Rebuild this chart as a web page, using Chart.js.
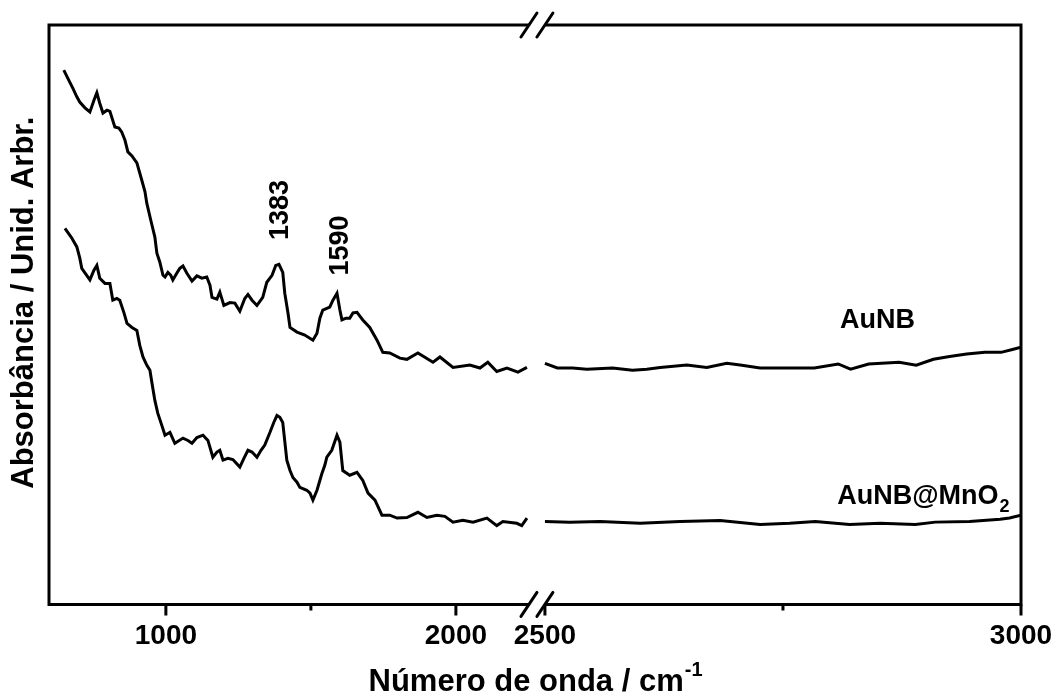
<!DOCTYPE html>
<html>
<head>
<meta charset="utf-8">
<script src="https://cdn.jsdelivr.net/npm/chart.js@4.4.0/dist/chart.umd.min.js"></script>
<style>
  html, body { margin: 0; padding: 0; background: #fff; }
</style>
</head>
<body>
<canvas id="c" width="1059" height="697"></canvas>
<script>
// spectra (wavenumber / cm-1, absorbance in arbitrary units)
const aunbWave = [648,662,679,693,703,721,738,752,762,772,783,797,807,824,838,848,859,869,883,900,
  917,928,934,948,962,969,979,990,997,1007,1017,1024,1038,1048,1059,1072,1090,1107,1124,1141,
  1152,1159,1176,1186,1200,1221,1238,1255,1272,1283,1297,1314,1334,1348,1366,1379,1390,1403,1410,1421,
  1428,1452,1479,1507,1521,1531,1541,1555,1565,1576,1590,1600,1607,1621,1634,1645,1659,1679,1703,1728,
  1748,1772,1807,1831,1869,1921,1945,1990,2048,2083,2110,2141,2176,2214,2245,
  2500,2513,2529,2544,2571,2592,2607,2621,2649,2670,2691,2705,2726,2739,2768,2783,2808,2821,2840,2872,
  2890,2908,2925,2943,2962,2979,2991,3000];
const aunbAbs = [0.922,0.908,0.891,0.876,0.867,0.857,0.850,0.870,0.883,0.865,0.848,0.853,0.851,0.824,0.822,0.815,0.801,0.781,0.774,0.762,
  0.732,0.712,0.693,0.663,0.634,0.606,0.591,0.568,0.565,0.573,0.568,0.560,0.572,0.580,0.584,0.572,0.558,0.567,0.563,0.565,
  0.551,0.530,0.527,0.539,0.516,0.521,0.520,0.506,0.528,0.535,0.525,0.516,0.530,0.556,0.568,0.585,0.587,0.573,0.537,0.503,
  0.478,0.470,0.465,0.456,0.468,0.494,0.508,0.511,0.513,0.525,0.537,0.508,0.491,0.494,0.494,0.503,0.504,0.491,0.478,0.456,
  0.435,0.434,0.425,0.423,0.434,0.418,0.427,0.409,0.413,0.408,0.418,0.402,0.408,0.401,0.409,
  0.416,0.408,0.408,0.406,0.408,0.404,0.406,0.409,0.413,0.409,0.416,0.413,0.408,0.408,0.408,0.408,0.415,0.406,0.415,0.418,
  0.413,0.423,0.428,0.432,0.435,0.435,0.440,0.444];

const mnoWave = [652,666,676,693,703,710,724,738,752,762,772,790,807,817,831,841,855,866,883,900,
  910,921,934,945,952,962,972,986,997,1014,1031,1059,1076,1090,1107,1128,1145,1162,1176,1186,
  1197,1214,1231,1255,1269,1283,1297,1314,1328,1341,1359,1372,1383,1393,1403,1417,1428,1438,1452,1462,
  1486,1497,1507,1521,1538,1548,1555,1572,1590,1600,1610,1634,1659,1679,1697,1721,1745,1772,1797,1831,
  1869,1900,1934,1962,1990,2024,2059,2107,2141,2162,2210,2227,2245,
  2500,2526,2558,2600,2642,2684,2726,2757,2784,2820,2852,2889,2910,2946,2978,2988,3000];
const mnoAbs = [0.649,0.639,0.632,0.617,0.598,0.580,0.570,0.560,0.577,0.585,0.563,0.554,0.554,0.525,0.528,0.525,0.504,0.485,0.478,0.473,
  0.447,0.427,0.413,0.404,0.382,0.352,0.330,0.309,0.292,0.297,0.278,0.287,0.283,0.278,0.288,0.292,0.283,0.254,0.263,0.266,
  0.249,0.252,0.250,0.237,0.252,0.266,0.263,0.254,0.266,0.275,0.297,0.314,0.326,0.323,0.314,0.249,0.231,0.219,0.211,0.202,
  0.197,0.192,0.180,0.197,0.226,0.240,0.254,0.266,0.292,0.280,0.231,0.223,0.228,0.214,0.192,0.180,0.154,0.154,0.149,0.150,
  0.159,0.150,0.154,0.152,0.142,0.145,0.142,0.149,0.136,0.143,0.140,0.136,0.149,
  0.143,0.142,0.143,0.140,0.143,0.145,0.138,0.140,0.143,0.138,0.140,0.138,0.142,0.143,0.147,0.149,0.154];

const tickValues = [1000, 1500, 2000, 2500, 2750, 3000];
const tickLabels = ['1000', '', '2000', '2500', '', '3000'];
const peakWave = [1383, 1590];
const peakLabelAbs = [0.684, 0.623];
const seriesNames = ['AuNB', 'AuNB@MnO2'];
const seriesLabelWave = [2810, 2807];
const seriesLabelAbs = [0.494, 0.190];

// broken axis: 600-2250 normal, 2500-3000 stretched
const breakStart = 2250, breakEnd = 2500, breakGap = 57, stretch = 3.283;
function toAxis(x) {
  return x <= breakStart ? x : breakStart + breakGap + (x - breakEnd) * stretch;
}

function buildPoints(wave, abs) {
  const pts = [];
  for (let i = 0; i < wave.length; i++) {
    if (i > 0 && wave[i - 1] <= breakStart && wave[i] >= breakEnd) {
      pts.push({ x: breakStart + breakGap / 2, y: null });
    }
    pts.push({ x: toAxis(wave[i]), y: abs[i] });
  }
  return pts;
}

const FONT = '"Liberation Sans", Arial, sans-serif';

function drawSubText(ctx, text, x, y, size) {
  // trailing digit drawn as a subscript
  const m = text.match(/^(.*?)(\d+)$/);
  ctx.font = 'bold ' + size + 'px ' + FONT;
  ctx.textAlign = 'left';
  ctx.textBaseline = 'alphabetic';
  if (!m) { ctx.fillText(text, x, y); return; }
  ctx.fillText(m[1], x, y);
  const w = ctx.measureText(m[1]).width;
  ctx.font = 'bold ' + Math.round(size * 0.65) + 'px ' + FONT;
  ctx.fillText(m[2], x + w + 1, y + 8);
}

const framePlugin = {
  id: 'frame',
  afterDraw(chart) {
    const ctx = chart.ctx;
    const { left, right, top, bottom } = chart.chartArea;
    const xs = chart.scales.x, ys = chart.scales.y;
    const b1 = xs.getPixelForValue(breakStart + 2);
    const b2 = xs.getPixelForValue(toAxis(breakEnd));

    ctx.save();
    ctx.strokeStyle = '#000';
    ctx.fillStyle = '#000';
    ctx.lineWidth = 3;
    ctx.lineCap = 'butt';
    ctx.beginPath();
    ctx.moveTo(b1, top); ctx.lineTo(left, top); ctx.lineTo(left, bottom); ctx.lineTo(b1, bottom);
    ctx.moveTo(b2, top); ctx.lineTo(right, top); ctx.lineTo(right, bottom); ctx.lineTo(b2, bottom);
    ctx.stroke();

    // break slashes
    ctx.lineCap = 'round';
    ctx.beginPath();
    [b1, b2].forEach(b => {
      [top, bottom].forEach(y => {
        ctx.moveTo(b - 8, y + 12);
        ctx.lineTo(b + 8, y - 12);
      });
    });
    ctx.stroke();

    // tick marks
    ctx.lineCap = 'butt';
    ctx.beginPath();
    xs.ticks.forEach((t, i) => {
      const px = xs.getPixelForValue(t.value);
      const len = tickLabels[i] ? 11 : 6;
      ctx.moveTo(px, bottom);
      ctx.lineTo(px, bottom + len);
    });
    ctx.stroke();

    // peak annotations
    ctx.font = 'bold 27px ' + FONT;
    ctx.textAlign = 'center';
    ctx.textBaseline = 'middle';
    peakWave.forEach((w, i) => {
      ctx.save();
      ctx.translate(xs.getPixelForValue(toAxis(w)) + 4, ys.getPixelForValue(peakLabelAbs[i]) + 2);
      ctx.rotate(-Math.PI / 2);
      ctx.fillText(String(w), 0, 0);
      ctx.restore();
    });

    // series names
    seriesNames.forEach((name, i) => {
      drawSubText(ctx, name, xs.getPixelForValue(toAxis(seriesLabelWave[i])),
        ys.getPixelForValue(seriesLabelAbs[i]) + 10, 27);
    });

    // axis titles
    ctx.font = 'bold 31px ' + FONT;
    ctx.textBaseline = 'alphabetic';
    ctx.textAlign = 'left';
    const main = 'Número de onda / cm';
    const wMain = ctx.measureText(main).width;
    ctx.font = 'bold 20px ' + FONT;
    const wSup = ctx.measureText('-1').width;
    const x0 = (left + right) / 2 - (wMain + wSup) / 2;
    ctx.font = 'bold 31px ' + FONT;
    ctx.fillText(main, x0, 691);
    ctx.font = 'bold 20px ' + FONT;
    ctx.fillText('-1', x0 + wMain + 1, 676);

    ctx.save();
    ctx.font = 'bold 31px ' + FONT;
    ctx.textAlign = 'center';
    ctx.textBaseline = 'middle';
    ctx.translate(left - 25, (top + bottom) / 2 - 12);
    ctx.rotate(-Math.PI / 2);
    ctx.fillText('Absorbância / Unid. Arbr.', 0, 0);
    ctx.restore();

    ctx.restore();
  }
};

new Chart(document.getElementById('c'), {
  type: 'line',
  data: {
    datasets: [
      { label: seriesNames[0], data: buildPoints(aunbWave, aunbAbs) },
      { label: seriesNames[1], data: buildPoints(mnoWave, mnoAbs) }
    ]
  },
  options: {
    responsive: false,
    devicePixelRatio: 1,
    animation: false,
    spanGaps: false,
    elements: {
      line: { borderColor: '#000', borderWidth: 3, tension: 0, fill: false },
      point: { radius: 0 }
    },
    layout: { padding: { left: 49, right: 38, top: 25, bottom: 29 } },
    plugins: { legend: { display: false }, tooltip: { enabled: false } },
    scales: {
      x: {
        type: 'linear',
        min: 597,
        max: toAxis(3000),
        grid: { display: false, drawTicks: false },
        border: { display: false },
        afterBuildTicks: (scale) => {
          scale.ticks = tickValues.map(v => ({ value: toAxis(v) }));
        },
        afterFit: (scale) => {
          // labels may overhang into the page margin
          scale.paddingLeft = 0;
          scale.paddingRight = 0;
        },
        ticks: {
          autoSkip: false,
          maxRotation: 0,
          padding: 15,
          color: '#000',
          font: { family: FONT, size: 28, weight: 'bold' },
          callback: (value, i) => tickLabels[i]
        }
      },
      y: { display: false, min: 0, max: 1 }
    }
  },
  plugins: [framePlugin]
});
</script>
</body>
</html>
